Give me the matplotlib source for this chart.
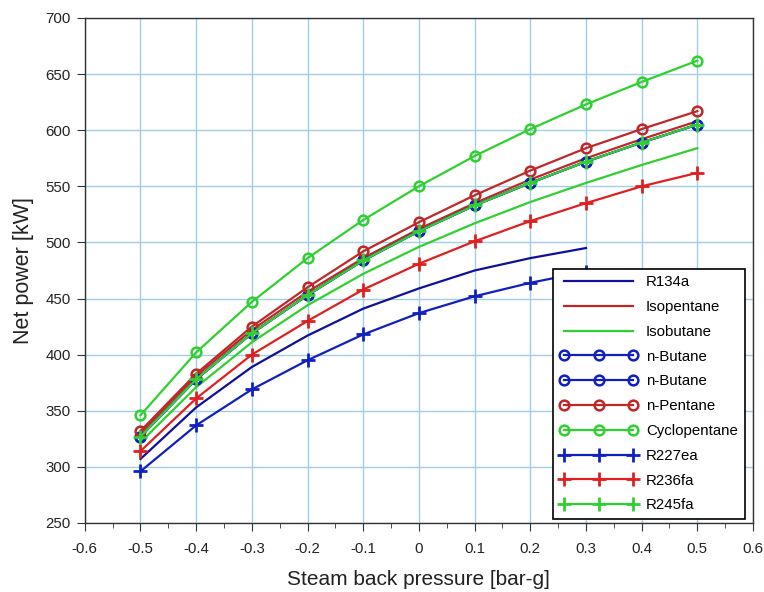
import matplotlib
matplotlib.use("Agg")
import matplotlib.pyplot as plt

# steam back pressure [bar-g]
p_full = [-0.5, -0.4, -0.3, -0.2, -0.1, 0.0, 0.1, 0.2, 0.3, 0.4, 0.5]
p_short = [-0.5, -0.4, -0.3, -0.2, -0.1, 0.0, 0.1, 0.2, 0.3]

# net power [kW]
r134a = [307, 353, 389, 417, 441, 459, 475, 486, 495]
isopentane = [330, 381, 422, 456, 486, 512, 535, 556, 575, 592, 608]
isobutane = [322, 371, 411, 444, 472, 496, 517, 536, 553, 569, 584]
n_butane = [327, 378, 419, 453, 484, 510, 533, 553, 572, 589, 605]
n_butane2 = [327, 378, 419, 453, 484, 510, 533, 553, 572, 589, 605]
n_pentane = [332, 383, 425, 460, 492, 518, 542, 564, 584, 601, 617]
cyclopentane = [346, 402, 447, 486, 520, 550, 577, 601, 623, 643, 662]
r227ea = [296, 337, 369, 395, 418, 437, 452, 464, 474]
r236fa = [314, 361, 400, 430, 458, 481, 501, 519, 535, 550, 562]
r245fa = [327, 378, 419, 453, 484, 510, 533, 553, 572, 589, 605]

plt.rcParams['font.family'] = ['Liberation Sans', 'DejaVu Sans']

fig = plt.figure(figsize=(7.64, 5.92), dpi=100)
ax = fig.add_axes([0.111, 0.1166, 0.8746, 0.853])

navy = '#10109a'
blue = '#1020c0'
dred = '#c02828'
red = '#e02020'
green = '#30d030'

lw = 1.6
ax.plot(p_short, r134a, color=navy, lw=lw, label='R134a')
ax.plot(p_full, isopentane, color=dred, lw=lw, label='Isopentane')
ax.plot(p_full, isobutane, color=green, lw=lw, label='Isobutane')
ax.plot(p_full, n_butane, color=blue, lw=lw, marker='o', ms=7, mfc='none', mew=1.8, label='n-Butane')
ax.plot(p_full, n_butane2, color=blue, lw=lw, marker='o', ms=7, mfc='none', mew=1.8, label='n-Butane')
ax.plot(p_full, n_pentane, color=dred, lw=lw, marker='o', ms=7, mfc='none', mew=1.8, label='n-Pentane')
ax.plot(p_full, cyclopentane, color=green, lw=lw, marker='o', ms=7, mfc='none', mew=1.8, label='Cyclopentane')
ax.plot(p_short, r227ea, color=blue, lw=lw, marker='+', ms=10, mew=2, label='R227ea')
ax.plot(p_full, r236fa, color=red, lw=lw, marker='+', ms=10, mew=2, label='R236fa')
ax.plot(p_full, r245fa, color=green, lw=lw, marker='+', ms=10, mew=2, label='R245fa')

ax.set_xlim(-0.6, 0.6)
ax.set_ylim(250, 700)
ax.set_xticks([-0.6, -0.5, -0.4, -0.3, -0.2, -0.1, 0, 0.1, 0.2, 0.3, 0.4, 0.5, 0.6])
ax.set_xticklabels(['-0.6', '-0.5', '-0.4', '-0.3', '-0.2', '-0.1', '0', '0.1', '0.2', '0.3', '0.4', '0.5', '0.6'])
ax.set_xticks([-0.55 + 0.1 * i for i in range(12)], minor=True)
ax.set_yticks(range(250, 701, 50))
ax.grid(True, color='#9fd0e8', lw=1.0)
ax.set_axisbelow(True)
ax.tick_params(axis='both', which='major', direction='out', length=6, labelsize=10.8, color='#333333', labelcolor='#222222')
ax.tick_params(axis='y', which='major', pad=4)
ax.tick_params(axis='x', which='major', pad=8)
ax.tick_params(axis='x', which='minor', direction='out', length=3.5, color='#333333')
for s in ax.spines.values():
    s.set_color('#333333')
    s.set_linewidth(1.0)

ax.set_xlabel('Steam back pressure [bar-g]', fontsize=15, labelpad=10, color='#222222')
ax.set_ylabel('Net power [kW]', fontsize=15.5, labelpad=8, color='#222222')

leg = ax.legend(loc='lower right', bbox_to_anchor=(0.993, 0.0), borderaxespad=0.25,
                fontsize=10.8, numpoints=3, handlelength=5.2, labelspacing=0.72,
                fancybox=False, framealpha=1, edgecolor='black', handletextpad=0.55,
                borderpad=0.45)
leg.get_frame().set_linewidth(1.2)

fig.savefig('out.png', dpi=100)
